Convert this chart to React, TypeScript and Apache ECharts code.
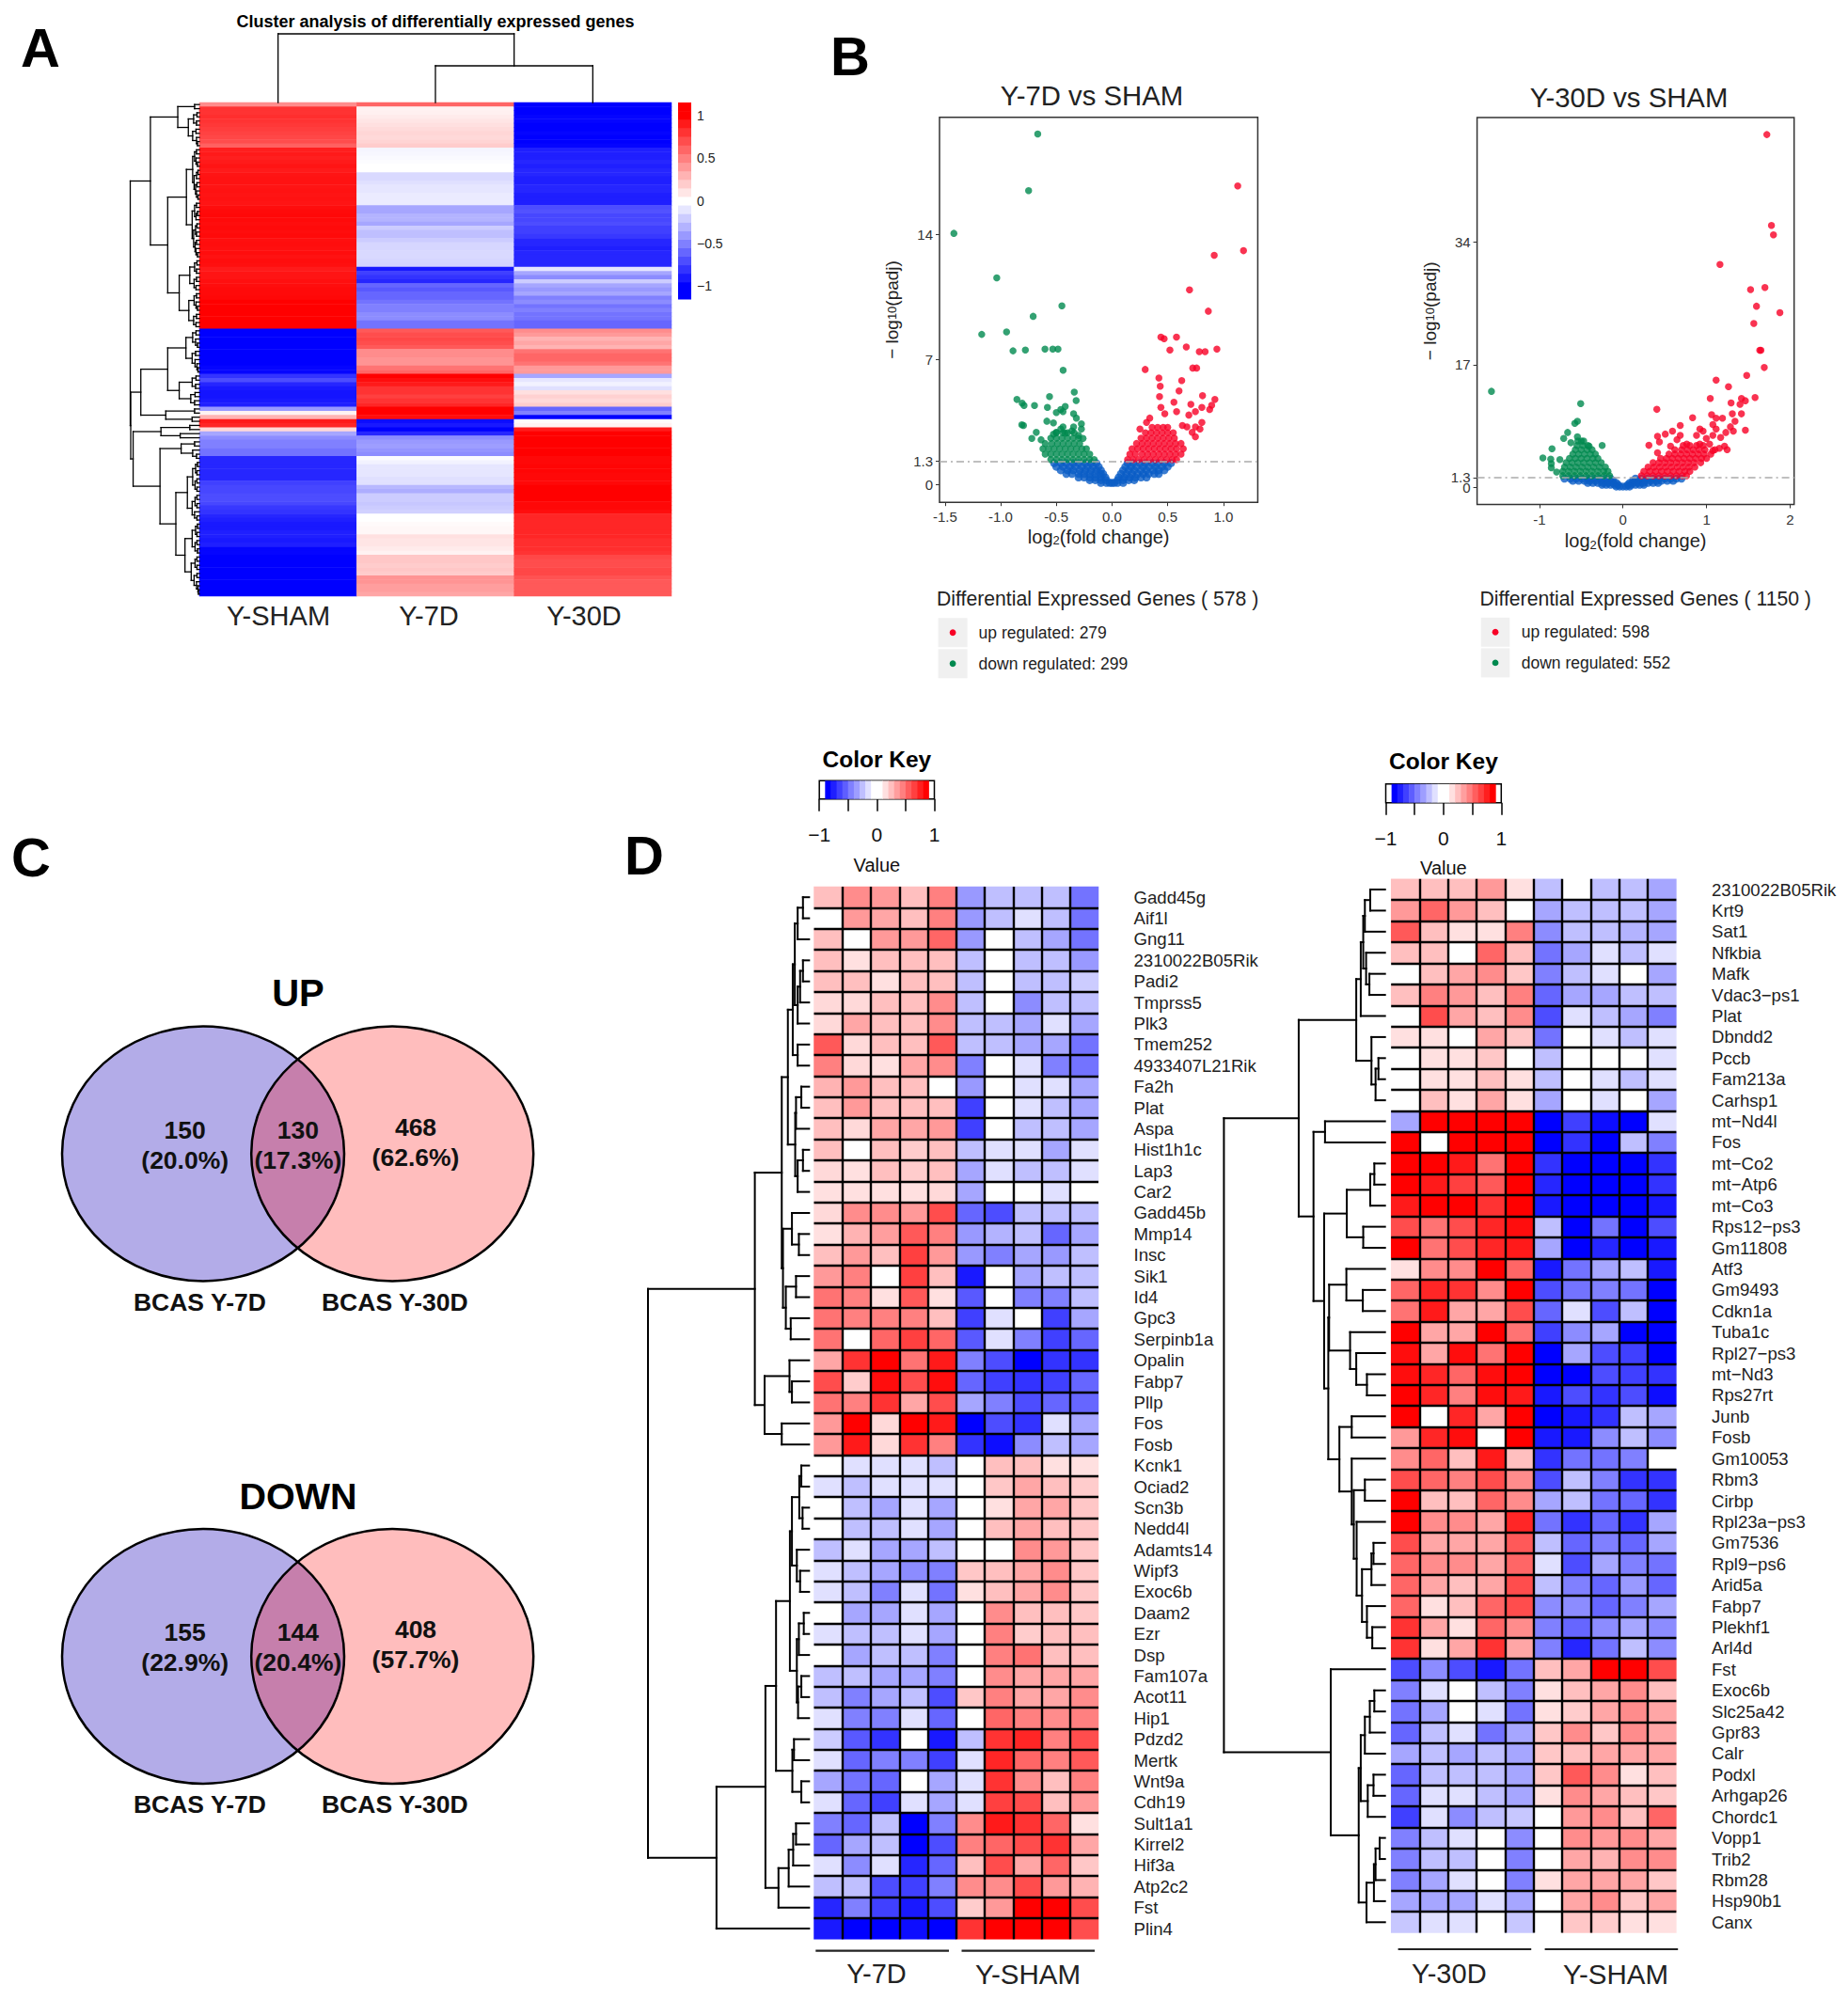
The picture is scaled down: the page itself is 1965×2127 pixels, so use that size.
import React, { useEffect, useRef } from "react";
import * as echarts from "echarts";

const FONT = '"Liberation Sans", Arial, sans-serif';
const FF = "Liberation Sans";

// ---------- Panel A ----------
const columnsA = ["Y-SHAM", "Y-7D", "Y-30D"];
const shamA = [
  .45, .8, .8, .82, .8, .78, .76, .74, .72, .7, .62,
  .88, .9, .88, .9, .92, .9,
  .92, .93, .93, .92, .93, .92, .93, .92,
  .95, .96, .97, .96, .95, .96, .95, .96,
  .94, .95, .94, .95, .93, .95, .94,
  .9, .92, .92, .94, .95, .96, .96, .97, 1, 1, 1, 1, 1, 1, 1,
  -1, -1, -1, -1, -1, -1, -1, -1, -1, -.98, -.98,
  -.8, -.7, -.85, -.9, -.92, -.92, -.9, -.88,
  -.4, .05, .3, .9, .85, .15, -.35, -.45, -.5, -.5, -.55, -.55,
  -.85, -.85, -.85, -.85, -.85, -.85,
  -.75, -.72, -.72, -.7, -.7, -.72, -.78, -.8, -.85,
  -.88, -.9, -.9, -.88, -.88, -.9, -.88,
  -.98, -.98, -1, -1, -1, -1, -1, -1, -1, -1, -1, -1,
];
const sevenA = [
  .6, .05, .06, .08, .1, .12, .14, .16, .15, .17, .2,
  -.04, -.03, -.02, -.01, 0, 0,
  -.15, -.15, -.12, -.1, -.1, -.08, -.08, -.08,
  -.35, -.35, -.3, -.3, -.35, -.2, -.25, -.25,
  -.2, -.16, -.16, -.15, -.15, -.16, -.17,
  -.9, -.75, -.8, -.85, -.6, -.65, -.6, -.6, -.55, -.5, -.5, -.45, -.45, -.55, -.55,
  .65, .7, .72, .7, .65,
  .45, .45, .42, .42, .55, .6,
  1, .95, .9, .8, .8, .75, .8, .85,
  1, 1, .95,
  -.95, -.9, -1, -.85,
  -.45, -.4, -.38, -.42, -.45,
  -.02, -.05, -.1, -.1, -.1, -.12, -.12, -.28, -.32, -.2, -.2, -.22, -.2, -.18,
  0, 0, .02, .03, .03,
  .12, .1, .1, .08, .05,
  .22, .22, .2, .22, .2,
  .42, .42, .38, .38, .35,
];
const thirtyA = [
  -1, -1, -1, -.98, -.98, -1, -1, -.98, -1, -1, -.98,
  -.88, -.88, -.88, -.85, -.88, -.85, -.85, -.88, -.88, -.85, -.85, -.88, -.88, -.88,
  -.7, -.68, -.72, -.72, -.7, -.75, -.75, -.78,
  -.85, -.85, -.88, -.85, -.85, -.85, -.85,
  -.1, -.35, -.45, -.2, -.35, -.4, -.35, -.5, -.45, -.55, -.5, -.55, -.55, -.6, -.6,
  .45, .4, .3, .35, .3,
  .55, .6, .6, .55, .4, .4,
  -.35, -.1, -.05, -.12, .12, .18, .15, .2,
  -.6, -.5, -1,
  .02, .05, .9,
  1, 1, 1, 1, 1, 1,
  .97, .97, .98, .98, .97, .97, .97, 1, 1, 1, 1, .97, .97, .95,
  .85, .85, .85, .85, .85, .85,
  .82, .82, .82, .8,
  .72, .7, .7, .72, .72,
  .68, .65, .65, .65, .65,
];
const colorBarBins = [-1.15, -1.05, -.95, -.85, -.75, -.65, -.55, -.45, -.35, -.25, -.15, -.05, .05, .15, .25, .35, .45, .55, .65, .75, .85, .95, 1.05, 1.15];
const colorBarTicks = [-1, -.5, 0, .5, 1];

type Tree = number | [number, Tree, Tree];
const treeATop: Tree = [73, 0, [39, 1, 2]];
const treeA: Tree = [144,
  [102,
    [45, [10, 0, 1], [23, [12, [5, 2, 3], [6, 4, 5]], [14, [7, 6, 7], [6, 8, [4, 9, 10]]]]],
    [66,
      [27,
        [14, [10, [6, 11, 12], [7, 13, [4, 14, 15]]], [11, [6, [3, 16, 17], 18], [8, [5, 19, 20], [6, 21, [3, 22, 23]]]]],
        [15, [10, [6, 24, 25], [7, [4, 26, 27], 28]], [12, [8, [5, 29, 30], [6, 31, 32]], [9, [6, 33, 34], [7, 35, [4, 36, 37]]]]]],
      [42,
        [20, [10, [5, 38, 39], [6, 40, 41]], [11, [6, 42, 43], [7, 44, 45]]],
        [22, [11, [6, 46, 47], [7, 48, [4, 49, 50]]], [12, [6, 51, 52], [7, 53, 54]]]]]],
  [143,
    [122,
      [66,
        [28, [14, [7, 55, 56], [8, 57, [4, 58, 59]]], [15, [8, 60, 61], [9, 62, [5, 63, [3, 64, 65]]]]],
        [42, [15, [7, 66, 67], [8, 68, 69]], [18, [9, 70, 71], [10, 72, 73]]]],
      [70, [10, 74, 75], [15, 76, 77]]],
    [138,
      [80, [20, 78, 79], [40, 80, 81]],
      [82,
        [38, [10, 82, 83], [14, 84, [6, 85, 86]]],
        [49,
          [25, [14, [8, [4, 87, 88], [5, 89, 90]], [9, [5, 91, 92], [5, 93, 94]]], [15, [9, [5, 95, 96], [5, 97, 98]], [10, 99, [5, 100, 101]]]],
          [30, [15, [8, [4, 102, 103], [5, 104, 105]], [9, [5, 106, 107], [4, 108, 109]]], [17, [9, [5, 110, 111], [5, 112, 113]], [11, [5, 114, 115], [6, 116, [3, 117, [2, 118, 119]]]]]]]]]]];

// ---------- Panel B: rows are [y level, x values] for dense bands, then outliers as [x, y] ----------
type Band = [number, number[]][];
const volcano7Blue: Band = [
  [1.2, [-.52, -.46, -.41, -.35, -.3, -.24, -.19, -.14, .14, .19, .25, .3, .36, .41, .47, .53]],
  [1.0, [-.5, -.44, -.38, -.33, -.27, -.22, -.17, -.12, .12, .17, .22, .28, .33, .39, .45, .5]],
  [.8, [-.46, -.4, -.35, -.29, -.24, -.19, -.14, -.1, .1, .15, .2, .26, .31, .37, .42, .47]],
  [.6, [-.41, -.36, -.3, -.25, -.2, -.15, -.1, -.08, .08, .13, .18, .23, .28, .33, .38, .42]],
  [.4, [-.3, -.25, -.2, -.15, -.1, -.06, .06, .11, .16, .21, .26, .31]],
  [.25, [-.2, -.15, -.1, -.05, .05, .1, .15, .2]],
  [.1, [-.1, -.05, -.02, 0, .02, .05, .1]],
];
const volcano7GreenBand: Band = [
  [1.4, [-.55, -.5, -.45, -.4, -.35, -.3, -.25, -.2, -.16]],
  [1.7, [-.6, -.55, -.5, -.45, -.4, -.35, -.3, -.25, -.2]],
  [2.0, [-.62, -.57, -.52, -.47, -.42, -.37, -.32, -.27, -.23]],
  [2.3, [-.6, -.54, -.49, -.44, -.39, -.34, -.29]],
  [2.6, [-.55, -.5, -.45, -.4, -.35, -.3]],
  [2.9, [-.5, -.44, -.4, -.34]],
];
const volcano7GreenOut = [
  [-.667, 19.6], [-.749, 16.44], [-1.42, 14.05], [-1.035, 11.56], [-.45, 10], [-.708, 9.41], [-.947, 8.54], [-1.17, 8.4],
  [-.889, 7.48], [-.778, 7.53], [-.602, 7.58], [-.532, 7.58], [-.485, 7.58], [-.439, 6.4], [-.339, 5.17], [-.561, 4.92],
  [-.322, 4.7], [-.854, 4.76], [-.807, 4.56], [-.79, 4.42], [-.696, 4.42], [-.42, 4.37], [-.46, 4.2], [-.44, 4.08], [-.5, 4.03],
  [-.58, 4.32], [-.345, 3.96], [-.32, 3.72], [-.81, 3.35], [-.795, 3.31], [-.585, 3.55], [-.526, 3.45], [-.275, 3.4], [-.44, 3.23],
  [-.46, 3.11], [-.345, 3.23], [-.275, 3.11], [-.36, 3], [-.526, 2.82], [-.68, 2.92], [-.72, 2.58], [-.637, 2.51], [-.5, 2.92],
  [-.42, 2.87], [-.3, 2.75], [-.26, 2.58],
];
const volcano7RedBand: Band = [
  [1.4, [.14, .19, .24, .29, .34, .39, .44, .49, .54, .58]],
  [1.7, [.16, .21, .27, .32, .37, .42, .47, .52, .57, .62]],
  [2.0, [.18, .23, .28, .33, .38, .43, .48, .53, .58, .64]],
  [2.3, [.22, .27, .32, .37, .42, .47, .52, .57, .62]],
  [2.6, [.26, .31, .36, .41, .46, .51, .56]],
  [2.9, [.3, .35, .4, .45, .5, .55]],
  [3.2, [.36, .41, .46, .5]],
];
const volcano7RedOut = [
  [1.129, 16.7], [1.181, 13.08], [.918, 12.82], [.696, 10.89], [.865, 9.7], [.439, 8.25], [.468, 8.16], [.579, 8.25],
  [.667, 7.7], [.52, 7.53], [.784, 7.43], [.836, 7.43], [.942, 7.58], [.725, 6.52], [.76, 6.52], [.298, 6.44], [.421, 5.96],
  [.626, 5.82], [.433, 5.5], [.602, 5.24], [.427, 4.92], [.813, 4.97], [.556, 4.61], [.708, 4.49], [.924, 4.76], [.895, 4.44],
  [.877, 4.2], [.439, 4.32], [.807, 4.32], [.58, 4.08], [.749, 4.08], [.69, 3.89], [.339, 3.72], [.474, 3.96], [.31, 3.48],
  [.632, 3.31], [.807, 3.48], [.749, 3.23], [.251, 3.11], [.673, 3.23], [.79, 3.11], [.749, 2.68], [.72, 2.92],
];
const volcano30Blue: Band = [
  [1.2, [-.7, -.63, -.56, -.49, -.42, -.35, -.28, -.21, -.15, .15, .22, .29, .36, .43, .5, .57, .64, .7]],
  [.9, [-.6, -.53, -.46, -.4, -.33, -.26, -.19, -.12, .12, .19, .26, .33, .4, .46, .53, .6]],
  [.6, [-.42, -.36, -.3, -.24, -.18, -.12, -.08, .08, .12, .18, .24, .3, .36, .42]],
  [.35, [-.25, -.2, -.15, -.1, -.06, .06, .1, .15, .2, .25]],
  [.1, [-.08, -.04, 0, .04, .08]],
];
const volcano30GreenBand: Band = [
  [1.6, [-.72, -.65, -.58, -.51, -.44, -.37, -.3, -.23, -.16]],
  [2.2, [-.72, -.65, -.58, -.51, -.44, -.37, -.3, -.23, -.18]],
  [2.8, [-.7, -.63, -.56, -.49, -.42, -.35, -.28, -.21]],
  [3.4, [-.68, -.61, -.54, -.47, -.4, -.33, -.26]],
  [4.0, [-.64, -.57, -.5, -.43, -.36, -.3]],
  [4.6, [-.6, -.53, -.46, -.39, -.33]],
  [5.2, [-.57, -.5, -.43, -.37]],
  [5.8, [-.55, -.48, -.42]],
  [6.4, [-.54, -.47]],
];
const volcano30GreenOut = [
  [-1.573, 13.3], [-.506, 11.6], [-.545, 9.16], [-.576, 8.86], [-.662, 7.6], [-.709, 6.77], [-.545, 7], [-.623, 6.17], [-.498, 6.4],
  [-.249, 5.8], [-.849, 5.33], [-.958, 4.07], [-.864, 3.89], [-.755, 3.83], [-.857, 3.29], [-.857, 2.69], [-.794, 2.1], [-.405, 5.69],
];
const volcano30RedBand: Band = [
  [1.6, [.22, .29, .36, .43, .5, .57, .64, .71, .76]],
  [2.2, [.25, .32, .39, .46, .53, .6, .67, .74, .8]],
  [2.8, [.3, .37, .44, .51, .58, .65, .72, .79, .86]],
  [3.4, [.36, .43, .5, .57, .64, .71, .78, .85, .93]],
  [4.0, [.45, .52, .59, .66, .73, .8, .87, .94, 1]],
  [4.6, [.55, .62, .69, .76, .83, .9, .97, 1.05]],
  [5.2, [.62, .7, .77, .84, .91, .98, 1.1]],
  [5.8, [.72, .8, .88, .96]],
];
const volcano30RedOut = [
  [1.721, 48.9], [1.776, 36.3], [1.8, 35], [1.16, 30.9], [1.526, 27.4], [1.698, 27.7], [1.597, 25.1], [1.877, 24.2], [1.565, 22.7],
  [1.636, 19], [1.65, 19], [1.69, 16.6], [1.48, 15.5], [1.114, 14.85], [1.262, 13.95], [1.044, 12.3], [1.58, 12.45], [1.417, 12.3],
  [1.293, 11.7], [1.464, 12], [1.4, 11.5], [.405, 10.8], [1.06, 10.06], [1.114, 9.58], [1.417, 10.18], [1.308, 10.18], [1.19, 9.58],
  [1.34, 9.16], [.833, 9.64], [1.075, 8.68], [.685, 8.56], [1.114, 8.08], [1.285, 8.38], [1.464, 7.9], [1.32, 7.78], [1.23, 7.6],
  [.92, 8.08], [.958, 7.78], [.592, 7.78], [.413, 7.07], [.506, 7.37], [.685, 7.19], [.88, 7.19], [1.075, 7.19], [1.168, 6.89],
  [.997, 6.77], [.646, 6.59], [.436, 6.29], [.31, 5.81], [.413, 4.79], [.569, 5.69], [.763, 5.99], [.919, 5.99], [1.036, 5.99],
  [1.215, 5.69], [1.246, 5.21], [1.153, 5.39], [1.075, 5.09],
];
const volcano7XTicks = [-1.5, -1, -.5, 0, .5, 1];
const volcano7YTicks = [0, 1.3, 7, 14];
const volcano7YLabels = [0, 1.3, 7, 14];
const volcano30XTicks = [-1, 0, 1, 2];
const volcano30YTicks = [0, 1.3, 17, 34];
const volcano30YLabels = [0, 17, 34];

// ---------- Panel D ----------
const keyBins = [
  [-.9, -.8, -1], [-.8, -.7, -.88], [-.7, -.6, -.75], [-.6, -.5, -.63], [-.5, -.4, -.5], [-.4, -.3, -.38], [-.3, -.2, -.25], [-.2, -.1, -.12],
  [-.1, .1, 0],
  [.1, .2, .12], [.2, .3, .25], [.3, .4, .38], [.4, .5, .5], [.5, .6, .63], [.6, .7, .75], [.7, .8, .88], [.8, .9, 1],
];
const keyTicks = [-1, -.5, 0, .5, 1];
const keyLabels = [-1, 0, 1];

const genesD1 = ["Gadd45g", "Aif1l", "Gng11", "2310022B05Rik", "Padi2", "Tmprss5", "Plk3", "Tmem252", "4933407L21Rik", "Fa2h", "Plat", "Aspa", "Hist1h1c", "Lap3", "Car2", "Gadd45b", "Mmp14", "Insc", "Sik1", "Id4", "Gpc3", "Serpinb1a", "Opalin", "Fabp7", "Pllp", "Fos", "Fosb", "Kcnk1", "Ociad2", "Scn3b", "Nedd4l", "Adamts14", "Wipf3", "Exoc6b", "Daam2", "Ezr", "Dsp", "Fam107a", "Acot11", "Hip1", "Pdzd2", "Mertk", "Wnt9a", "Cdh19", "Sult1a1", "Kirrel2", "Hif3a", "Atp2c2", "Fst", "Plin4"];
const valuesD1 = [
  [.25, .45, .4, .25, .5, -.4, -.25, -.25, -.25, -.55],
  [0, .4, .35, .25, .5, -.4, -.25, -.12, -.25, -.55],
  [.25, 0, .4, .4, .6, -.4, 0, -.25, -.35, -.55],
  [.25, .12, .25, .25, .25, -.25, 0, -.25, -.25, -.4],
  [.25, .25, .12, .25, .25, -.25, 0, -.25, -.25, -.2],
  [.15, .15, .25, .25, .45, -.25, 0, -.45, -.25, -.25],
  [.15, .35, .25, .25, .45, -.25, -.25, -.35, -.12, -.35],
  [.65, .15, .25, .25, .65, -.25, -.25, -.35, -.35, -.55],
  [.5, .15, .12, .35, .45, -.5, 0, -.12, -.5, -.55],
  [.3, .4, .25, .25, 0, -.4, 0, -.12, -.12, -.35],
  [.25, .4, .25, .25, .25, -.75, 0, -.12, -.25, -.35],
  [.25, .15, .35, .35, .4, -.75, 0, -.25, -.25, -.35],
  [.25, 0, .25, .2, .25, -.25, -.12, -.12, -.35, -.12],
  [.15, .12, .25, .2, .25, -.35, -.12, -.25, -.25, -.12],
  [.12, .12, .12, .12, .15, -.35, 0, 0, -.12, 0],
  [.15, .45, .45, .4, .7, -.6, -.7, -.25, -.25, -.25],
  [.12, .3, .38, .65, .5, -.4, -.3, -.25, -.6, -.35],
  [.25, .4, .25, .75, .4, -.4, -.5, -.35, -.4, -.25],
  [.4, .5, 0, .75, .25, -.9, 0, -.35, -.25, -.25],
  [.55, .5, .12, .65, .12, -.65, 0, -.5, -.5, -.25],
  [.55, .5, .5, .5, .25, -.75, -.12, 0, -.75, -.35],
  [.55, 0, .6, .75, .6, -.65, -.12, -.5, -.75, -.6],
  [.35, .8, 1, .55, .9, -.5, -.7, -1, -.8, -.8],
  [.7, .2, .95, .7, .95, -.6, -.75, -.8, -.75, -.6],
  [.55, .5, .8, .35, .7, -.35, -.5, -.7, -.6, -.6],
  [.4, 1, .15, 1, .9, -1, -.7, -.8, -.12, -.35],
  [.4, .9, .15, .8, .5, -.8, -.95, -.45, -.25, -.35],
  [0, -.12, -.12, -.12, -.25, 0, .25, .25, .12, .12],
  [-.12, -.25, -.12, -.12, -.12, 0, .22, .35, .25, .2],
  [0, -.25, -.35, -.12, -.35, 0, .12, .35, .35, .22],
  [0, -.25, -.25, -.12, -.35, 0, .25, .35, .25, .22],
  [-.25, -.12, -.35, -.35, -.25, 0, 0, .45, .4, .22],
  [-.12, -.25, -.35, -.45, -.5, .22, .25, .35, .45, .22],
  [-.12, -.25, -.5, -.12, -.55, .12, .25, .35, .45, .22],
  [0, -.35, -.35, -.12, -.35, 0, .45, .25, .25, .22],
  [-.12, -.25, -.25, -.12, -.35, 0, .5, .2, .25, .25],
  [0, -.35, -.25, -.25, -.5, 0, .5, .55, .25, .25],
  [-.25, -.25, -.35, -.35, -.5, 0, .45, .35, .35, .35],
  [-.25, -.5, -.35, -.25, -.7, .22, .5, .35, .35, .45],
  [-.12, -.5, -.5, -.12, -.6, 0, .6, .5, .45, .5],
  [-.2, -.65, -.8, 0, -.9, -.25, .8, .85, .5, .7],
  [-.12, -.6, -.5, -.5, -.75, -.12, .85, .6, .5, .65],
  [-.35, -.55, -.6, 0, -.35, -.12, .8, .45, .25, .5],
  [-.12, -.6, -.75, -.12, -.35, -.12, .75, .7, .25, .4],
  [-.5, -.6, -.25, -1, -.5, .45, .9, .8, .6, .12],
  [-.6, -.35, -.25, -1, -.7, .5, .6, .7, .8, .35],
  [-.12, -.45, -.12, -.85, -.6, .25, .7, .35, .6, .22],
  [-.25, -.25, -.7, -.75, -.5, .45, .45, .7, .4, .3],
  [-.85, -.5, -.75, -.9, -.7, .2, .4, 1, 1, .7],
  [-.9, -1, -1, -.95, -1, .8, 1, 1, 1, .7],
];
const genesD2 = ["2310022B05Rik", "Krt9", "Sat1", "Nfkbia", "Mafk", "Vdac3−ps1", "Plat", "Dbndd2", "Pccb", "Fam213a", "Carhsp1", "mt−Nd4l", "Fos", "mt−Co2", "mt−Atp6", "mt−Co3", "Rps12−ps3", "Gm11808", "Atf3", "Gm9493", "Cdkn1a", "Tuba1c", "Rpl27−ps3", "mt−Nd3", "Rps27rt", "Junb", "Fosb", "Gm10053", "Rbm3", "Cirbp", "Rpl23a−ps3", "Gm7536", "Rpl9−ps6", "Arid5a", "Fabp7", "Plekhf1", "Arl4d", "Fst", "Exoc6b", "Slc25a42", "Gpr83", "Calr", "Podxl", "Arhgap26", "Chordc1", "Vopp1", "Trib2", "Rbm28", "Hsp90b1", "Canx"];
const valuesD2 = [
  [.25, .25, .25, .4, .12, -.25, 0, -.25, -.25, -.35],
  [.4, .6, .4, .25, 0, -.35, -.25, -.25, -.25, -.35],
  [.65, .25, .12, .12, .5, -.45, -.25, -.25, -.3, -.35],
  [.25, .25, 0, .6, .25, -.55, -.35, -.12, -.25, -.12],
  [0, .25, .35, .45, .22, -.5, -.25, -.12, 0, -.35],
  [.25, .5, .4, .25, .5, -.6, -.35, -.35, -.25, -.25],
  [0, .7, .35, .25, .45, -.7, -.12, -.25, -.35, -.5],
  [.12, .12, 0, .35, .22, -.55, 0, -.12, -.25, -.12],
  [0, .12, .12, .22, 0, -.25, 0, 0, 0, -.12],
  [0, .12, .12, .25, .12, -.25, 0, -.12, -.25, -.12],
  [0, .25, .12, .35, .12, -.35, 0, -.12, 0, -.35],
  [-.35, 1, 1, 1, 1, -1, -.75, -.95, -1, -.12],
  [1, 0, 1, 1, 1, -1, -.8, -1, -.25, -.5],
  [1, 1, .9, .55, 1, -.8, -1, -1, -1, -.8],
  [1, .9, .75, .65, 1, -.85, -1, -1, -1, -.8],
  [.9, 1, 1, .8, 1, -.9, -1, -1, -1, -.9],
  [.7, .55, .7, .85, .95, -.25, -1, -.55, -1, -.7],
  [1, .55, .7, .85, .9, -.35, -1, -.85, -1, -.9],
  [.12, .45, .45, 1, .6, -.9, -.55, -.35, -.25, -.9],
  [.6, .85, .8, .45, 1, -.7, -.55, -.5, -.55, -1],
  [.55, .9, .35, .35, .7, -.6, -.12, -.7, -.25, -1],
  [1, .35, .35, 1, .55, -.75, -.45, -.35, -1, -1],
  [.95, .35, .95, .55, 1, -1, -.35, -.7, -.75, -1],
  [.95, .85, .6, .95, 1, -1, -1, -.7, -.75, -.8],
  [1, .85, .5, .95, .9, -.9, -.7, -.8, -.7, -.95],
  [1, 0, .85, .35, 1, -1, -.9, -.8, -.25, -.35],
  [.4, .85, .95, 0, 1, -.9, -.9, -.45, -.25, -.45],
  [.45, .6, .25, .9, .25, -.8, -.55, -.55, -.5, 0],
  [.7, .6, .5, .7, .45, -.7, -.25, -.5, -.8, -.8],
  [1, .25, .25, .6, .45, -.35, -.25, -.55, -.6, -.8],
  [1, .45, .45, .35, .85, -.55, -.8, -.6, -.8, -.35],
  [.7, .35, .35, .35, .65, -.25, -.6, -.5, -.6, -.35],
  [.6, .45, .45, .35, .6, -.12, -.7, -.35, -.5, -.55],
  [.6, .35, .25, .35, .7, -.25, -.5, -.6, -.4, -.6],
  [.6, .12, .25, .6, .7, -.45, -.45, -.6, -.5, -.35],
  [.8, .35, .12, .6, .45, -.5, -.6, -.45, -.35, -.45],
  [.8, .12, .35, .8, .35, -.5, -.85, -.55, -.25, -.45],
  [-.7, -.45, -.7, -.9, -.55, .25, .35, 1, 1, .7],
  [-.5, -.12, 0, -.25, -.5, .12, .25, .35, .45, .25],
  [-.55, -.35, 0, -.12, -.55, .12, .2, .35, .45, .35],
  [-.6, -.25, -.12, -.55, -.35, .22, .45, .22, .45, .35],
  [-.35, -.25, -.35, -.25, -.35, .22, .25, .35, .35, .35],
  [-.6, -.25, -.25, -.25, -.35, .22, .65, .45, .12, .25],
  [-.6, -.12, -.12, -.25, -.35, .12, .45, .35, .25, .22],
  [-.75, -.12, -.45, -.25, -.22, 0, .4, .45, .25, .6],
  [-.5, -.25, -.12, 0, -.45, 0, .45, .4, .45, .35],
  [-.5, -.25, -.25, 0, -.5, 0, .35, .3, .45, .45],
  [-.5, -.35, -.12, 0, -.5, .12, .35, .35, .35, .22],
  [-.35, -.35, -.35, -.12, -.35, 0, .35, .45, .22, .35],
  [-.22, -.12, -.12, 0, -.22, 0, .22, .2, .12, .12],
];
const treeD1: Tree = [395,
  [133,
    [67,
      [52,
        [40, [35, [28, [15, 0, 1], 2], [28, [22, [15, 3, 4], 5], 6]], [28, 7, 8]],
        [34, [32, [19, 9, 10], 11], [28, [15, 12, 13], 14]]],
      [64, [42, 15, [25, 16, 17]], [57, [32, 18, 19], [45, 20, 21]]]],
    [109, [48, 22, [42, 23, 24]], [67, 25, 26]]],
  [227,
    [107,
      [81,
        [47,
          [42, [24, [19, 27, 28], [16, 29, 30]], [30, 31, [22, 32, 33]]],
          [30, [25, [13, 34, 35], 36], [27, [19, 37, 38], 39]]],
        [41, [37, 40, 41], [19, 42, 43]]],
      [75, [50, [39, [32, 44, 45], 46], 47], 48]],
    49]];
const treeD2: Tree = [392,
  [210,
    [70, [59, [53, [49, [36, 0, 1], 2], [46, 3, [38, 4, 5]]], 6], [33, 7, [23, [16, 8, 9], 10]]],
    [174,
      [146, 11, 12],
      [148,
        [93, [36, [26, 13, 14], 15], [53, 16, 17]],
        [138,
          [136, [94, 18, [54, 19, 20]], [85, 21, [70, 22, [44, 23, 24]]]],
          [111, [81, 25, 26], [81, 27, [76, [49, 28, 29], [69, 30, [56, [33, [28, 31, 32], 33], [44, 34, [31, 35, 36]]]]]]]]]]],
  [132, 37, [64,
    [59, [49, [37, [26, 38, 39], 40], 41], [42, [28, 42, 43], 44]],
    [45, [27, [23, [13, 45, 46], 47], 48], 49]]]];

// ---------- helpers ----------
function flatten(t: Tree, out: number[][]): { pos: number; h: number } {
  if (typeof t === "number") return { pos: t + 0.5, h: 0 };
  const a = flatten(t[1], out);
  const b = flatten(t[2], out);
  const h = t[0];
  out.push([a.h, a.pos, h, a.pos], [h, a.pos, h, b.pos], [b.h, b.pos, h, b.pos]);
  return { pos: (a.pos + b.pos) / 2, h };
}
function bandPoints(b: Band) {
  const pts: number[][] = [];
  b.forEach(([y, xs]) => xs.forEach((x) => pts.push([x, y])));
  return pts;
}
function divColor(v: number) {
  const c = Math.max(-1, Math.min(1, v));
  if (c >= 0) { const g = Math.round(255 * (1 - c)); return `rgb(255,${g},${g})`; }
  const g = Math.round(255 * (1 + c));
  return `rgb(${g},${g},255)`;
}
const segRender = (lw: number, swap: boolean) => (_p: any, api: any) => {
  const a = swap ? [api.value(1), api.value(0)] : [api.value(0), api.value(1)];
  const b = swap ? [api.value(3), api.value(2)] : [api.value(2), api.value(3)];
  const p1 = api.coord(a);
  const p2 = api.coord(b);
  return { type: "line", shape: { x1: p1[0], y1: p1[1], x2: p2[0], y2: p2[1] }, style: { stroke: "#000", lineWidth: lw, lineCap: "square" } };
};

function buildOption() {
  const grid: any[] = [], xAxis: any[] = [], yAxis: any[] = [], series: any[] = [], graphic: any[] = [];
  const heatIdx: number[] = [];
  const addGrid = (left: number, top: number, width: number, height: number, extra: any = {}) => {
    grid.push({ left, top, width, height, containLabel: false, ...extra });
    return grid.length - 1;
  };
  const hidden = (g: number, min: number, max: number, inverse = false) => ({ type: "value", gridIndex: g, min, max, inverse, show: false, splitLine: { show: false } });

  const addDendro = (tree: Tree, left: number, top: number, width: number, height: number, hMax: number, nLeaves: number, lw: number) => {
    const g = addGrid(left, top, width, height);
    xAxis.push(hidden(g, 0, hMax, true));
    yAxis.push(hidden(g, 0, nLeaves, true));
    const segs: number[][] = [];
    flatten(tree, segs);
    series.push({ type: "custom", xAxisIndex: g, yAxisIndex: g, coordinateSystem: "cartesian2d", silent: true, clip: false, encode: { x: [0, 2], y: [1, 3] }, renderItem: segRender(lw, false), data: segs });
  };
  const text = (t: string, x: number, y: number, font: string, align = "center", fill = "#000") =>
    graphic.push({ type: "text", x, y, silent: true, style: { text: t, font, fill, align, verticalAlign: "middle" } });
  const line = (x1: number, y1: number, x2: number, y2: number, lw: number, stroke = "#000") =>
    graphic.push({ type: "line", silent: true, shape: { x1, y1, x2, y2 }, style: { stroke, lineWidth: lw } });

  // Panel letters
  text("A", 43, 50, `bold 58px ${FONT}`);
  text("B", 904, 59, `bold 58px ${FONT}`);
  text("C", 33, 911, `bold 58px ${FONT}`);
  text("D", 685, 909, `bold 58px ${FONT}`);

  // ---- A heatmap
  const gA = addGrid(212, 109, 502, 525);
  xAxis.push({ type: "category", gridIndex: gA, data: columnsA, axisLine: { show: false }, axisTick: { show: false }, axisLabel: { show: false }, splitLine: { show: false } });
  yAxis.push({ type: "category", gridIndex: gA, inverse: true, data: shamA.map((_, i) => String(i)), show: false, splitLine: { show: false } });
  const dataA: number[][] = [];
  [shamA, sevenA, thirtyA].forEach((col, c) => col.forEach((v, r) => dataA.push([c, r, v])));
  heatIdx.push(series.length);
  series.push({ type: "heatmap", xAxisIndex: gA, yAxisIndex: gA, data: dataA, silent: true, progressive: 0 });
  addDendro(treeA, 138.5, 109, 73.5, 525, 144, shamA.length, 1.3);
  // top dendrogram
  const gTop = addGrid(212, 35.7, 502, 73.3);
  xAxis.push(hidden(gTop, 0, 3));
  yAxis.push(hidden(gTop, 0, 73.3));
  const topSegs: number[][] = [];
  flatten(treeATop, topSegs);
  series.push({ type: "custom", xAxisIndex: gTop, yAxisIndex: gTop, silent: true, clip: false, encode: { x: [1, 3], y: [0, 2] }, renderItem: segRender(1.3, true), data: topSegs });
  text("Cluster analysis of differentially expressed genes", 463, 23, `bold 18px ${FONT}`);
  text("Y-SHAM", 296, 655, `29px ${FONT}`, "center", "#222");
  text("Y-7D", 456, 655, `29px ${FONT}`, "center", "#222");
  text("Y-30D", 621, 655, `29px ${FONT}`, "center", "#222");
  // colour bar
  const gBar = addGrid(721, 109, 14, 209);
  xAxis.push(hidden(gBar, 0, 1));
  yAxis.push({
    type: "value", gridIndex: gBar, min: -1.15, max: 1.15, position: "right", splitLine: { show: false }, axisLine: { show: false, onZero: false },
    axisTick: { show: false },
    axisLabel: { customValues: colorBarTicks, margin: 6, color: "#222", fontFamily: FF, fontSize: 14, formatter: (v: number) => String(v).replace("-", "−") },
  });
  const barData = colorBarBins.slice(0, -1).map((lo, i) => [lo, colorBarBins[i + 1]]);
  series.push({
    type: "custom", xAxisIndex: gBar, yAxisIndex: gBar, silent: true, encode: { y: [0, 1] }, data: barData,
    renderItem: (_p: any, api: any) => {
      const lo = api.value(0), hi = api.value(1);
      const a = api.coord([0, hi]), b = api.coord([1, lo]);
      return { type: "rect", shape: { x: a[0], y: a[1], width: b[0] - a[0], height: b[1] - a[1] + 0.5 }, style: { fill: divColor((lo + hi) / 2) } };
    },
  });

  // ---- B volcanoes
  const RED = "#f80026", GREEN = "#00894f", BLUE = "#0a5dc6";
  const addVolcano = (cfg: any) => {
    const g = addGrid(cfg.left, cfg.top, cfg.width, cfg.height, { show: true, borderColor: "#333", borderWidth: 1.5, backgroundColor: "#fff" });
    xAxis.push({
      type: "value", gridIndex: g, min: cfg.xMin, max: cfg.xMax, splitLine: { show: false }, axisLine: { show: false, onZero: false },
      axisTick: { show: true, length: 4, customValues: cfg.xTicks, lineStyle: { color: "#333" } },
      axisLabel: { customValues: cfg.xTicks, margin: 8, color: "#333", fontFamily: FF, fontSize: 15, formatter: cfg.xFmt },
      name: "log{s|2}(fold change)", nameLocation: "middle", nameGap: cfg.xGap,
      nameTextStyle: { color: "#222", fontFamily: FF, fontSize: 20, rich: { s: { fontSize: 13, fontFamily: FF, color: "#222", verticalAlign: "bottom", padding: [8, 0, 0, 0] } } },
    });
    yAxis.push({
      type: "value", gridIndex: g, min: cfg.yMin, max: cfg.yMax, splitLine: { show: false }, axisLine: { show: false, onZero: false },
      axisTick: { show: true, length: 4, customValues: cfg.yTicks, lineStyle: { color: "#333" } },
      axisLabel: { customValues: cfg.yLabels, margin: 7, color: "#333", fontFamily: FF, fontSize: 15, hideOverlap: false, showMinLabel: true, showMaxLabel: true },
      name: "− log{s|10}(padj)", nameLocation: "middle", nameGap: 41, nameRotate: 90,
      nameTextStyle: { color: "#222", fontFamily: FF, fontSize: 19, rich: { s: { fontSize: 13, fontFamily: FF, color: "#222" } } },
    });
    const common = { type: "scatter", xAxisIndex: g, yAxisIndex: g, silent: true, symbol: "circle", large: false };
    series.push({
      ...common, data: bandPoints(cfg.blue), symbolSize: 8.5, itemStyle: { color: BLUE },
      markLine: { silent: true, symbol: "none", label: { show: false }, lineStyle: { color: "#aaa", type: [8, 4, 2, 4], width: 1.5 }, data: [{ yAxis: 1.3 }] },
      z: 2,
    });
    series.push({ ...common, data: [...bandPoints(cfg.greenBand), ...cfg.greenOut], symbolSize: 7.5, itemStyle: { color: GREEN }, z: 3 });
    series.push({ ...common, data: [...bandPoints(cfg.redBand), ...cfg.redOut], symbolSize: 7.5, itemStyle: { color: RED }, z: 3 });
  };
  addVolcano({ left: 999, top: 124.7, width: 338.4, height: 409.5, xMin: -1.549, xMax: 1.309, yMin: -.988, yMax: 20.54, xTicks: volcano7XTicks, yTicks: volcano7YTicks, yLabels: volcano7YLabels, xFmt: (v: number) => v.toFixed(1), xGap: 26, blue: volcano7Blue, greenBand: volcano7GreenBand, greenOut: volcano7GreenOut, redBand: volcano7RedBand, redOut: volcano7RedOut });
  addVolcano({ left: 1570.6, top: 125.1, width: 337.1, height: 411.4, xMin: -1.745, xMax: 2.047, yMin: -2.39, yMax: 51.25, xTicks: volcano30XTicks, yTicks: volcano30YTicks, yLabels: volcano30YLabels, xFmt: (v: number) => String(v), xGap: 28, blue: volcano30Blue, greenBand: volcano30GreenBand, greenOut: volcano30GreenOut, redBand: volcano30RedBand, redOut: volcano30RedOut });
  text("1.3", 1563.6, 507, `15px ${FONT}`, "right", "#333");
  text("Y-7D vs SHAM", 1161, 101.7, `29.3px ${FONT}`, "center", "#222");
  text("Y-30D vs SHAM", 1732, 103, `29.3px ${FONT}`, "center", "#222");

  const legendB = (head: string, up: string, down: string, hx: number, hy: number, bx: number, bw: number, by1: number, by2: number, tx: number) => {
    text(head, hx, hy, `21.2px ${FONT}`, "left", "#222");
    [[by1, RED, up], [by2, GREEN, down]].forEach(([by, col, label]: any) => {
      graphic.push({ type: "rect", silent: true, shape: { x: bx, y: by, width: bw, height: 31 }, style: { fill: "#f0f0f0" } });
      graphic.push({ type: "circle", silent: true, shape: { cx: bx + bw / 2, cy: by + 15.5, r: 3.4 }, style: { fill: col } });
      text(label, tx, by + 15.5, `17.5px ${FONT}`, "left", "#222");
    });
  };
  legendB("Differential Expressed Genes ( 578 )", "up regulated: 279", "down regulated: 299", 996, 636.6, 997.6, 31, 657.3, 690.3, 1040.6);
  legendB("Differential Expressed Genes ( 1150 )", "up regulated: 598", "down regulated: 552", 1573.4, 636, 1574.8, 30.5, 656.8, 689.4, 1617.7);

  // ---- C venn
  const venn = (title: string, titleSize: number, titleY: number, cy: number, a: string[], b: string[], c: string[], labelY: number, ay: number, cTextDy: number) => {
    graphic.push({ type: "ellipse", silent: true, shape: { cx: 216, cy, rx: 150, ry: 135.5 }, style: { fill: "#b3ace8" } });
    graphic.push({ type: "ellipse", silent: true, shape: { cx: 417.2, cy, rx: 150, ry: 135.5 }, style: { fill: "rgba(255,0,0,0.26)", stroke: "#000", lineWidth: 2.5 } });
    graphic.push({ type: "ellipse", silent: true, shape: { cx: 216, cy, rx: 150, ry: 135.5 }, style: { fill: "none", stroke: "#000", lineWidth: 2.5 } });
    const f = `bold 26.5px ${FONT}`;
    text(title, 317, titleY, `bold ${titleSize}px ${FONT}`);
    text(a[0], 196.7, ay, f, "center", "#111"); text(a[1], 196.7, ay + 32, f, "center", "#111");
    text(b[0], 316.9, ay, f, "center", "#111"); text(b[1], 316.9, ay + 32, f, "center", "#111");
    text(c[0], 442, ay - cTextDy, f, "center", "#111"); text(c[1], 442, ay - cTextDy + 32, f, "center", "#111");
    text("BCAS Y-7D", 212.4, labelY, f, "center", "#111");
    text("BCAS Y-30D", 419.8, labelY, f, "center", "#111");
  };
  venn("UP", 40, 1055.5, 1226.9, ["150", "(20.0%)"], ["130", "(17.3%)"], ["468", "(62.6%)"], 1384.5, 1201.6, 3);
  venn("DOWN", 39.5, 1590.5, 1761.4, ["155", "(22.9%)"], ["144", "(20.4%)"], ["408", "(57.7%)"], 1919, 1736.2, 3);

  // ---- D heatmaps
  const addHeat = (cfg: any) => {
    const g = addGrid(cfg.left, cfg.top, cfg.width, cfg.height);
    const splitLine = { show: true, interval: 0, showMinLine: false, showMaxLine: false, lineStyle: { color: "#000", width: 2.4 } };
    xAxis.push({ type: "category", gridIndex: g, z: 5, data: cfg.values[0].map((_: number, i: number) => String(i)), axisLine: { show: false }, axisTick: { show: false }, axisLabel: { show: false }, splitLine });
    yAxis.push({
      type: "category", gridIndex: g, z: 5, inverse: true, position: "right", data: cfg.genes, axisLine: { show: false }, axisTick: { show: false }, splitLine,
      axisLabel: { interval: 0, align: "left", margin: cfg.labelX - cfg.left - cfg.width, color: "#222", fontFamily: FF, fontSize: 18.6, hideOverlap: false },
    });
    const data: number[][] = [];
    cfg.values.forEach((row: number[], r: number) => row.forEach((v, c) => data.push([c, r, v])));
    heatIdx.push(series.length);
    series.push({ type: "heatmap", xAxisIndex: g, yAxisIndex: g, data, silent: true, progressive: 0 });
    addDendro(cfg.tree, cfg.dLeft, cfg.top, cfg.dWidth, cfg.height, cfg.hMax, cfg.genes.length, 2);
    // colour key
    const k = cfg.key;
    const gk = addGrid(k.left, k.top, k.width, k.height, { show: true, borderColor: "#000", borderWidth: 1.5, backgroundColor: "#fff" });
    xAxis.push({
      type: "value", gridIndex: gk, min: -1, max: 1, splitLine: { show: false }, axisLine: { show: false, onZero: false },
      axisTick: { show: true, length: 13, customValues: keyTicks, lineStyle: { color: "#000", width: 1.5 } },
      axisLabel: { customValues: keyLabels, margin: 27, color: "#111", fontFamily: FF, fontSize: 21, formatter: (v: number) => String(v).replace("-", "−") },
    });
    yAxis.push(hidden(gk, 0, 1));
    series.push({
      type: "custom", xAxisIndex: gk, yAxisIndex: gk, silent: true, encode: { x: [0, 1] }, data: keyBins,
      renderItem: (_p: any, api: any) => {
        const a = api.coord([api.value(0), 1]), b = api.coord([api.value(1), 0]);
        return { type: "rect", shape: { x: a[0], y: a[1], width: b[0] - a[0] + 0.5, height: b[1] - a[1] }, style: { fill: divColor(api.value(2)) } };
      },
    });
    text("Color Key", k.left + k.width / 2, k.titleY, `bold 24.5px ${FONT}`);
    text("Value", k.left + k.width / 2, k.valueY, `20px ${FONT}`, "center", "#111");
  };
  addHeat({ left: 865.5, top: 943, width: 302.5, height: 1119.3, genes: genesD1, values: valuesD1, labelX: 1205.5, tree: treeD1, dLeft: 689, dWidth: 171.3, hMax: 395, key: { left: 871.2, top: 830.3, width: 122.3, height: 19.5, titleY: 807, valueY: 920 } });
  addHeat({ left: 1479.2, top: 934.8, width: 303.2, height: 1120.7, genes: genesD2, values: valuesD2, labelX: 1820, tree: treeD2, dLeft: 1301.4, dWidth: 171.3, hMax: 392, key: { left: 1473.5, top: 833.8, width: 122.8, height: 19.9, titleY: 809.5, valueY: 923 } });
  line(867.3, 2074.6, 1009, 2074.6, 2.2, "#222"); line(1022.5, 2074.6, 1164, 2074.6, 2.2, "#222");
  line(1486.6, 2073, 1628.2, 2073, 2.2, "#222"); line(1642.6, 2073, 1784.2, 2073, 2.2, "#222");
  text("Y-7D", 932, 2099, `29px ${FONT}`, "center", "#222");
  text("Y-SHAM", 1093, 2099, `29.5px ${FONT}`, "center", "#222");
  text("Y-30D", 1540.8, 2099, `29px ${FONT}`, "center", "#222");
  text("Y-SHAM", 1718, 2099, `29.5px ${FONT}`, "center", "#222");

  return {
    animation: false,
    backgroundColor: "#fff",
    textStyle: { fontFamily: FF },
    grid, xAxis, yAxis, series, graphic,
    visualMap: { show: false, type: "continuous", min: -1, max: 1, seriesIndex: heatIdx, dimension: 2, inRange: { color: ["#0000ff", "#ffffff", "#ff0000"] } },
  };
}

export default function App() {
  const ref = useRef<HTMLDivElement>(null);
  useEffect(() => {
    const chart = echarts.init(ref.current!, undefined, { renderer: "svg", width: 1965, height: 2127 });
    chart.setOption(buildOption() as any);
    return () => chart.dispose();
  }, []);
  return <div ref={ref} style={{ position: "absolute", left: 0, top: 0, width: 1965, height: 2127, background: "#fff" }} />;
}
